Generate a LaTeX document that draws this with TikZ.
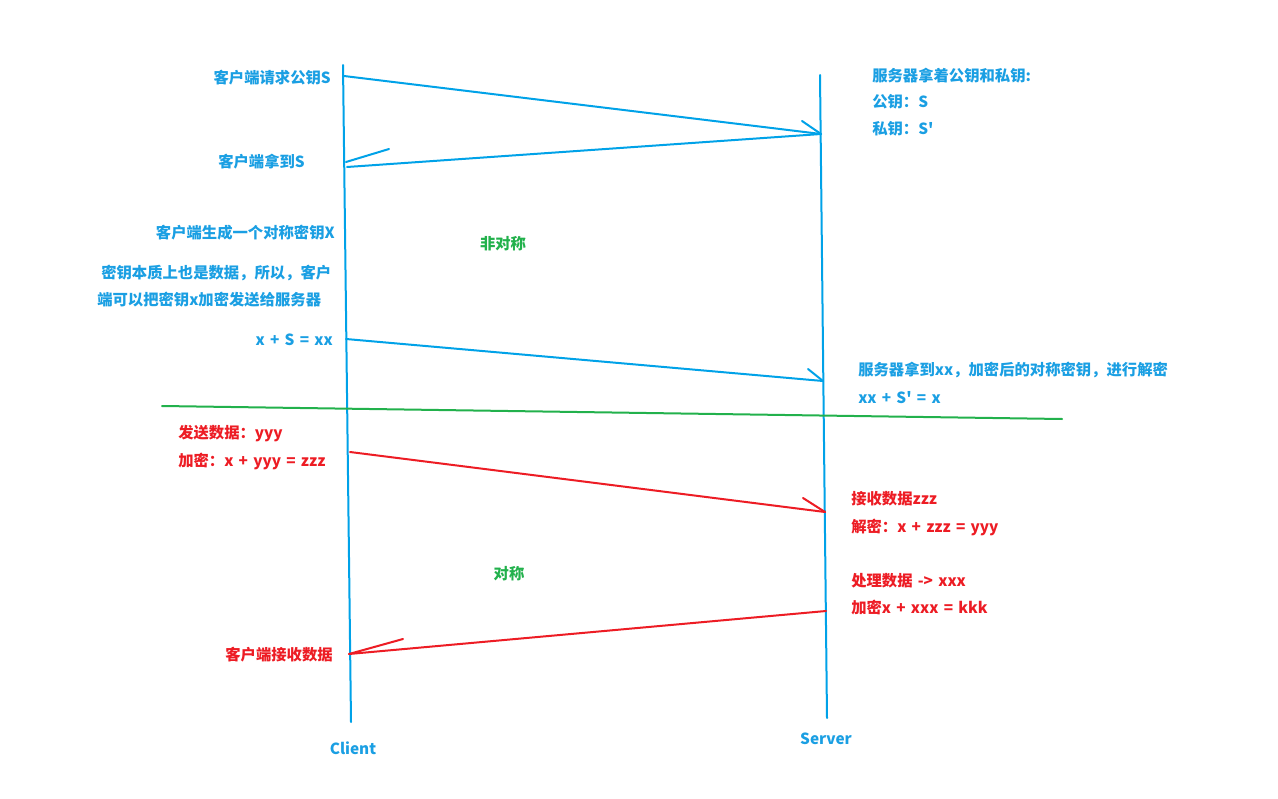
\documentclass[tikz,border=0pt]{standalone}
\usepackage{fontspec}
\newfontfamily\yh{Noto Sans CJK SC}[WordSpace=1.5]
\definecolor{pblue}{HTML}{00A2E8}
\definecolor{tblue}{HTML}{1A9FE3}
\definecolor{pred}{HTML}{ED1C24}
\definecolor{pgreen}{HTML}{22B14C}
\begin{document}
\begin{tikzpicture}[x=0.75pt,y=-0.75pt,
  line/.style={line width=1.5pt,line cap=round},
  bl/.style={line,draw=pblue},
  rd/.style={line,draw=pred},
  gr/.style={line,draw=pgreen},
  txt/.style={inner sep=0pt,font=\yh\fontsize{11.5}{14}\selectfont\bfseries},
  tb/.style={txt,text=tblue},
  tr/.style={txt,text=pred},
  tg/.style={txt,text=pgreen}]
\useasboundingbox[fill=white] (0,0) rectangle (1278,799);
% lifelines
\coordinate (c0) at (343,65);
\coordinate (c1) at (351,722);
\coordinate (s0) at (820,75);
\coordinate (s1) at (827,718);
\draw[bl] (c0) -- (c1);
\draw[bl] (s0) -- (s1);
% message 1
\coordinate (m1a) at (344,76);
\coordinate (m1b) at (821,134);
\coordinate (m1h) at (802,121);
\draw[bl] (m1a) -- (m1b);
\draw[bl] (m1h) -- (m1b);
% message 2
\coordinate (m2a) at (821,134);
\coordinate (m2b) at (347,167);
\coordinate (m2t) at (346,162);
\coordinate (m2h) at (389,149);
\draw[bl] (m2a) -- (m2b);
\draw[bl] (m2h) -- (m2t);
% message 3
\coordinate (m3a) at (346,339);
\coordinate (m3b) at (823,381);
\coordinate (m3h) at (808,369);
\draw[bl] (m3a) -- (m3b);
\draw[bl] (m3h) -- (m3b);
% green divider
\coordinate (g0) at (162,406);
\coordinate (g1) at (1062,419);
\draw[gr] (g0) -- (g1);
% message 4
\coordinate (m4a) at (350,452);
\coordinate (m4b) at (825,512);
\coordinate (m4h) at (803,498);
\draw[rd] (m4a) -- (m4b);
\draw[rd] (m4h) -- (m4b);
% message 5
\coordinate (m5a) at (826,611);
\coordinate (m5b) at (349,654);
\coordinate (m5h) at (403,639);
\draw[rd] (m5a) -- (m5b);
\draw[rd] (m5h) -- (m5b);
% texts client side
\node[tb,anchor=east] (t1) at (331,78) {客户端请求公钥S};
\node[tb,anchor=east] (t2) at (305,162) {客户端拿到S};
\node[tb,anchor=east] (t3) at (335,233) {客户端生成一个对称密钥X};
\node[tb,anchor=west] (t4) at (101,273) {密钥本质上也是数据，所以，客户};
\node[tb,anchor=west] (t5) at (97,300) {端可以把密钥x加密发送给服务器};
\node[tb,anchor=east] (t6) at (333,340) {x + S = xx};
\node[tg] (t7) at (503,244) {非对称};
% server side
\node[tb,anchor=west] (s1t) at (872,76) {服务器拿着公钥和私钥:};
\node[tb,anchor=west] (s2t) at (872,102) {公钥：S};
\node[tb,anchor=west] (s3t) at (872,129) {私钥：S'};
\node[tb,anchor=west] (s4t) at (858,370) {服务器拿到xx，加密后的对称密钥，进行解密};
\node[tb,anchor=west] (s5t) at (858,398) {xx + S' = x};
% red texts
\node[tr,anchor=west] (r1) at (178,434) {发送数据：yyy};
\node[tr,anchor=west] (r2) at (178,461) {加密：x + yyy = zzz};
\node[tr,anchor=west] (r3) at (851,499) {接收数据zzz};
\node[tr,anchor=west] (r4) at (851,527) {解密：x + zzz = yyy};
\node[tr,anchor=west] (r5) at (851,581) {处理数据 -> xxx};
\node[tr,anchor=west] (r6) at (851,608) {加密x + xxx = kkk};
\node[tr,anchor=east] (r7) at (333,655) {客户端接收数据};
\node[tg] (t8) at (509,574) {对称};
% labels
\node[tb] (cl) at (353,748) {Client};
\node[tb] (sv) at (826,739) {Server};
\end{tikzpicture}
\end{document}
